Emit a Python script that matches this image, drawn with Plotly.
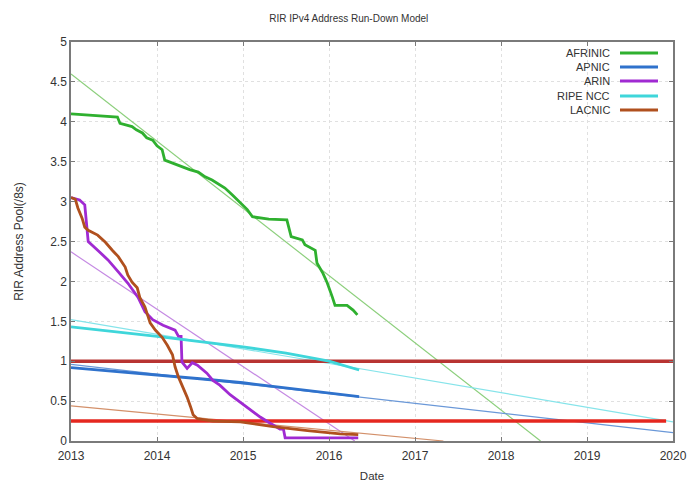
import plotly.graph_objects as go

# ---- data (year, /8s) ----
afrinic_x = [2013.0, 2013.28, 2013.54, 2013.57, 2013.71, 2013.76, 2013.83, 2013.88, 2013.95, 2014.0,
             2014.06, 2014.09, 2014.18, 2014.29, 2014.38, 2014.48, 2014.56, 2014.64, 2014.72, 2014.79,
             2014.88, 2015.0, 2015.05, 2015.11, 2015.3, 2015.51, 2015.56, 2015.69, 2015.72, 2015.84,
             2015.86, 2015.93, 2015.98, 2016.04, 2016.07, 2016.21, 2016.28, 2016.33]
afrinic_y = [4.10, 4.08, 4.06, 3.98, 3.94, 3.90, 3.86, 3.80, 3.77, 3.70,
             3.65, 3.52, 3.48, 3.43, 3.40, 3.37, 3.31, 3.27, 3.22, 3.17,
             3.08, 2.96, 2.90, 2.81, 2.78, 2.77, 2.56, 2.52, 2.46, 2.39,
             2.23, 2.10, 1.98, 1.80, 1.70, 1.70, 1.64, 1.58]

apnic_x = [2013.0, 2013.5, 2014.0, 2014.5, 2015.0, 2015.5, 2016.0, 2016.35]
apnic_y = [0.92, 0.875, 0.83, 0.78, 0.73, 0.665, 0.60, 0.555]

arin_x = [2013.0, 2013.10, 2013.16, 2013.20, 2013.31, 2013.43, 2013.55, 2013.66, 2013.78, 2013.86,
          2013.95, 2014.07, 2014.21, 2014.25, 2014.28, 2014.29, 2014.35, 2014.41, 2014.47, 2014.58,
          2014.65, 2014.73, 2014.85, 2014.97, 2015.08, 2015.20, 2015.32, 2015.43, 2015.47, 2015.49, 2016.34]
arin_y = [3.05, 3.02, 2.96, 2.50, 2.39, 2.27, 2.12, 1.98, 1.80, 1.62,
          1.52, 1.45, 1.39, 1.31, 1.31, 0.99, 0.91, 0.98, 0.95, 0.85,
          0.76, 0.70, 0.58, 0.48, 0.39, 0.30, 0.22, 0.15, 0.15, 0.04, 0.04]

ripe_x = [2013.0, 2014.0, 2015.0, 2015.5, 2016.0, 2016.35]
ripe_y = [1.43, 1.31, 1.18, 1.10, 1.00, 0.89]

lacnic_x = [2013.0, 2013.05, 2013.08, 2013.13, 2013.16, 2013.20, 2013.31, 2013.40, 2013.48, 2013.55,
            2013.63, 2013.66, 2013.71, 2013.77, 2013.80, 2013.86, 2013.92, 2013.98, 2014.06, 2014.12,
            2014.18, 2014.21, 2014.25, 2014.30, 2014.35, 2014.39, 2014.42, 2014.47, 2014.65, 2014.97,
            2015.35, 2015.75, 2016.13, 2016.34]
lacnic_y = [3.05, 3.03, 2.92, 2.79, 2.68, 2.64, 2.58, 2.49, 2.39, 2.31,
            2.18, 2.08, 1.99, 1.92, 1.80, 1.68, 1.48, 1.39, 1.30, 1.20,
            1.08, 0.93, 0.80, 0.68, 0.55, 0.43, 0.33, 0.28, 0.25, 0.24,
            0.18, 0.13, 0.09, 0.08]

# trend (model) lines: start/end points
afrinic_trend_x = [2013.0, 2018.46]
afrinic_trend_y = [4.60, 0.0]
apnic_trend_x = [2013.0, 2020.0]
apnic_trend_y = [0.96, 0.105]
arin_trend_x = [2013.0, 2016.3]
arin_trend_y = [2.37, 0.0]
ripe_trend_x = [2013.0, 2020.0]
ripe_trend_y = [1.52, 0.24]
lacnic_trend_x = [2013.0, 2017.33]
lacnic_trend_y = [0.44, 0.0]

threshold_hi_x = [2013.0, 2020.0]
threshold_hi = [1.0, 1.0]
threshold_lo_x = [2013.0, 2019.92]
threshold_lo = [0.25, 0.25]

names = ["AFRINIC", "APNIC", "ARIN", "RIPE NCC", "LACNIC"]
colors = ["#2fb02f", "#2f72cc", "#a02ad2", "#3fd6da", "#b0501e"]
light = ["#8ccf7c", "#6a98d8", "#c58ae3", "#86e4ea", "#d3906a"]

x_ticks = [2013, 2014, 2015, 2016, 2017, 2018, 2019, 2020]
y_ticks = [0, 0.5, 1, 1.5, 2, 2.5, 3, 3.5, 4, 4.5, 5]

fig = go.Figure()

trends = [(afrinic_trend_x, afrinic_trend_y), (apnic_trend_x, apnic_trend_y),
          (arin_trend_x, arin_trend_y), (ripe_trend_x, ripe_trend_y),
          (lacnic_trend_x, lacnic_trend_y)]
for (tx, ty), c in zip(trends, light):
    fig.add_trace(go.Scatter(x=tx, y=ty, mode="lines", line=dict(color=c, width=1.2),
                             showlegend=False, hoverinfo="skip"))

fig.add_trace(go.Scatter(x=threshold_hi_x, y=threshold_hi, mode="lines",
                         line=dict(color="#b83432", width=3.5), showlegend=False))
fig.add_trace(go.Scatter(x=threshold_lo_x, y=threshold_lo, mode="lines",
                         line=dict(color="#e5271f", width=3.5), showlegend=False))

series = [(afrinic_x, afrinic_y), (apnic_x, apnic_y), (arin_x, arin_y),
          (ripe_x, ripe_y), (lacnic_x, lacnic_y)]
for (sx, sy), c, n in zip(series, colors, names):
    fig.add_trace(go.Scatter(x=sx, y=sy, mode="lines", name=n,
                             line=dict(color=c, width=2.8), showlegend=False))

# custom legend (text right, sample line on the right like gnuplot)
x0, x1 = 71, 673
y0, y1 = 441, 42
def px(xp):
    return (xp - x0) / (x1 - x0)
def py(yp):
    return (y0 - yp) / (y0 - y1)

legend_y = [53, 67, 81, 96, 110]
for n, c, ly in zip(names, colors, legend_y):
    fig.add_annotation(x=px(612), y=py(ly), xref="paper", yref="paper", text=n,
                       showarrow=False, xanchor="right", yanchor="middle",
                       font=dict(family="Liberation Sans, Arial, sans-serif", size=11, color="#333"))
    fig.add_shape(type="line", xref="paper", yref="paper",
                  x0=px(620), x1=px(658), y0=py(ly), y1=py(ly),
                  line=dict(color=c, width=2.8))

axis_font = dict(family="Liberation Sans, Arial, sans-serif", size=12, color="#333")
fig.update_layout(
    width=688, height=482,
    margin=dict(l=71, r=15, t=42, b=41, autoexpand=False),
    paper_bgcolor="white", plot_bgcolor="white",
    title=dict(text="RIR IPv4 Address Run-Down Model", x=0.507, xanchor="center",
               y=1 - 18 / 482, yanchor="middle",
               font=dict(family="Liberation Sans, Arial, sans-serif", size=10, color="#333")),
    font=axis_font,
    showlegend=False,
)
fig.update_xaxes(range=[2013, 2020], tickvals=x_ticks, ticktext=[str(t) for t in x_ticks],
                 showgrid=True, gridcolor="#e0e0e0", griddash="dot", gridwidth=1,
                 showline=True, linecolor="#7a7a7a", linewidth=1.5, mirror="ticks",
                 ticks="inside", ticklen=4, tickcolor="#7a7a7a", zeroline=False,
                 ticklabelstandoff=3, automargin=False,
                 title=dict(text="Date", font=dict(size=11.5, color="#333"), standoff=20),
                 tickfont=axis_font)
fig.update_yaxes(range=[0, 5], tickvals=y_ticks, ticktext=[str(t) for t in y_ticks],
                 showgrid=True, gridcolor="#e0e0e0", griddash="dot", gridwidth=1,
                 showline=True, linecolor="#7a7a7a", linewidth=1.5, mirror="ticks",
                 ticks="inside", ticklen=4, tickcolor="#7a7a7a", zeroline=False,
                 automargin=False,
                 title=dict(text="RIR Address Pool(/8s)", font=dict(size=12, color="#333"), standoff=24),
                 tickfont=axis_font)

fig.write_html("out.html", config={"displayModeBar": False},
               post_script="document.body.style.margin='0px';document.body.style.overflow='hidden';")
